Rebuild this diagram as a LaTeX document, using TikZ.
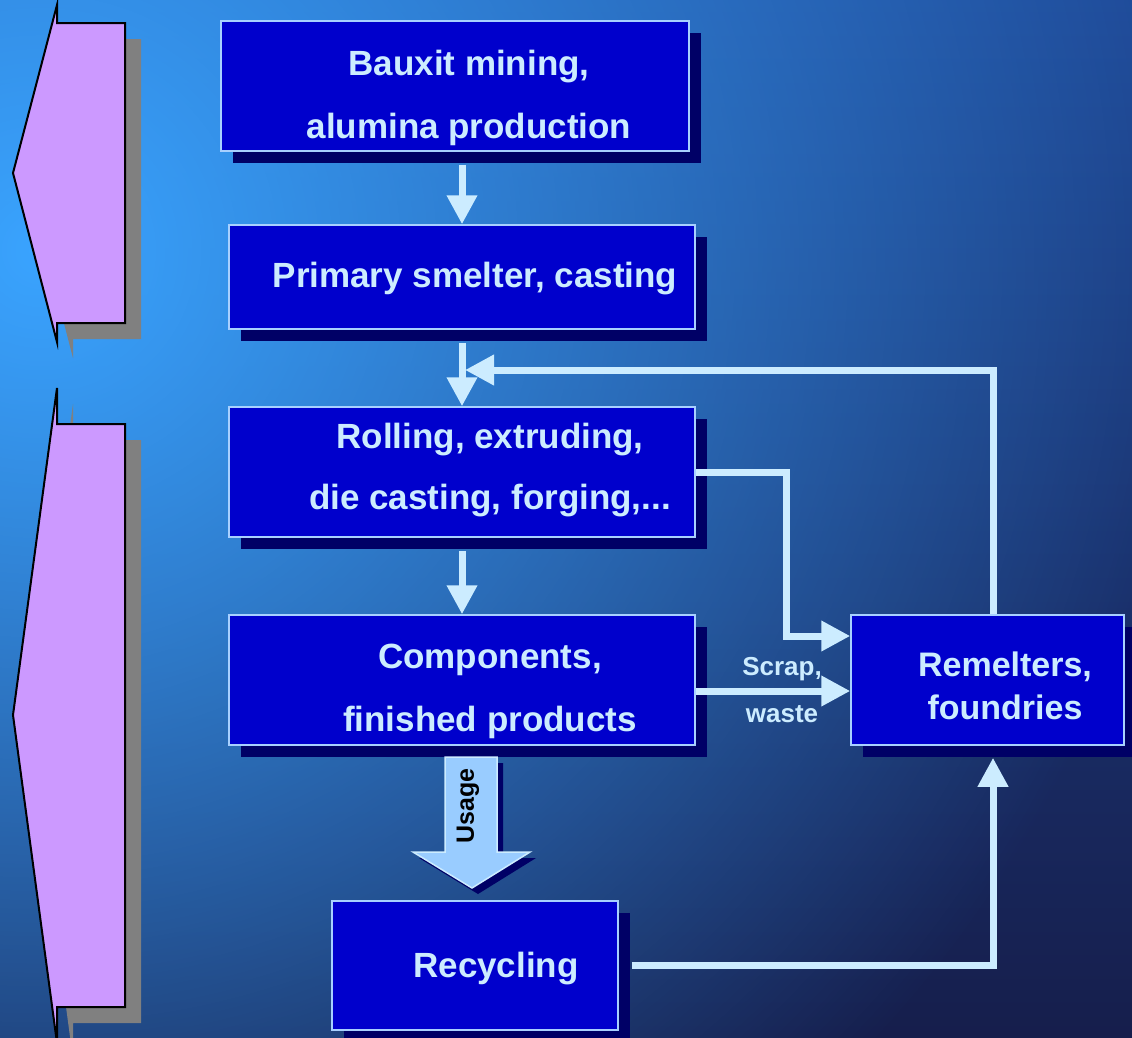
\documentclass[tikz,border=0pt]{standalone}
\usepackage{fontspec}
\setmainfont{Liberation Sans}
\usetikzlibrary{calc,shadows,arrows.meta,fadings}
\definecolor{boxfill}{HTML}{0000CC}
\definecolor{boxshadow}{HTML}{000066}
\definecolor{lite}{HTML}{CCECFF}
\definecolor{boxline}{HTML}{A8D0FF}
\definecolor{chev}{HTML}{CC99FF}
\definecolor{chevshadow}{HTML}{808080}
\definecolor{usagefill}{HTML}{99CCFF}
\definecolor{bgA}{HTML}{3AA4FF}
\definecolor{bgM}{HTML}{1F4A98}
\definecolor{bgB}{HTML}{161E4C}
\tikzfading[name=softglow, inner color=transparent!0, outer color=transparent!100]
\begin{document}
\begin{tikzpicture}[x=1pt,y=-1pt,
  box/.style={draw=boxline, line width=1.5pt, fill=boxfill,
    drop shadow={shadow xshift=12pt, shadow yshift=-12pt, fill=boxshadow, opacity=1},
    inner sep=0pt},
  boxtext/.style={text=lite, font=\bfseries\fontsize{35}{63}\selectfont, align=center, inner sep=0pt},
  conn/.style={draw=lite, line width=7pt},
  tipend/.style={-{Triangle[length=29pt,width=29pt]}},
  chevron/.style={fill=chev, draw=black, line width=2pt, line join=miter},
  chevshade/.style={fill=chevshadow},
]
\useasboundingbox (0,0) rectangle (1132,1037);
% background
\begin{scope}
  \clip (0,0) rectangle (1132,1037);
  \shade[top color=bgM, bottom color=bgB] (0,0) rectangle (1132,1037);
  \fill[bgA, path fading=softglow] (40,250) circle (1150);
\end{scope}

% left chevrons
\begin{scope}
  \clip (0,0) rectangle (1132,1037);
  \fill[chevshade, shift={(16,16)}] (57,5) -- (57,23) -- (125,23) -- (125,323) -- (57,323) -- (57,342) -- (13,173) -- cycle;
  \draw[chevron] (57,5) -- (57,23) -- (125,23) -- (125,323) -- (57,323) -- (57,342) -- (13,173) -- cycle;
  \fill[chevshade, shift={(16,16)}] (57,388) -- (57,424) -- (125,424) -- (125,1007) -- (57,1007) -- (57,1043) -- (13,715) -- cycle;
  \draw[chevron] (57,388) -- (57,424) -- (125,424) -- (125,1007) -- (57,1007) -- (57,1043) -- (13,715) -- cycle;
\end{scope}

% boxes
\node[box, minimum width=468pt, minimum height=130pt] (bauxit) at (455,86) {};
\node[boxtext] (bauxit-t) at (469,97.5) {Bauxit mining,\\alumina production};

\node[box, minimum width=466pt, minimum height=104pt] (primary) at (462,277) {};
\node[boxtext] (primary-t) at (475,279) {Primary smelter, casting};

\node[box, minimum width=466pt, minimum height=130pt] (rolling) at (462,472) {};
\node[boxtext, font=\bfseries\fontsize{35}{61}\selectfont] (rolling-t) at (490,470.5) {Rolling, extruding,\\die casting, forging,...};

\node[box, minimum width=466pt, minimum height=130pt] (components) at (462,680) {};
\node[boxtext] (components-t) at (490,691.5) {Components,\\finished products};

\node[box, minimum width=273pt, minimum height=130pt] (remelters) at (987.5,680) {};
\node[boxtext, font=\bfseries\fontsize{34}{43}\selectfont] (remelters-t) at (1005,686) {Remelters,\\foundries};

\node[box, minimum width=286pt, minimum height=129pt] (recycling) at (475,965.5) {};
\node[boxtext] (recycling-t) at (496,969) {Recycling};

% usage block arrow
\fill[boxshadow, shift={(6,6)}] (445,757) -- (497,757) -- (497,852) -- (530,852) -- (472,888) -- (413,852) -- (445,852) -- cycle;
\draw[fill=usagefill, draw=lite, line width=1.5pt, line join=miter] (445,757) -- (497,757) -- (497,852) -- (530,852) -- (472,888) -- (413,852) -- (445,852) -- cycle;
\node[rotate=90, font=\bfseries\fontsize{25}{30}\selectfont, text=black, inner sep=0pt] (usage) at (468,806) {Usage};

% connectors
\coordinate (fbtip) at (465,370);
\draw[conn, tipend] ($(primary.north |- bauxit.south)+(0,13)$) -- (primary.north);
\draw[conn, tipend] ($(primary.south)+(0,13)$) -- (rolling.north);
\draw[conn, tipend] ($(rolling.south)+(0,13)$) -- (components.north);
\draw[conn, tipend] ($(remelters.north)+(5.5,0)$) |- (fbtip);
\draw[conn, tipend] (rolling.east) -- ++(91,0) |- ($(remelters.west)+(0,-44)$);
\draw[conn, tipend] ($(components.east)+(0,11)$) -- ($(remelters.west)+(0,11)$);
\draw[conn, tipend] ($(recycling.east)+(13,0)$) -| ($(remelters.south)+(5.5,12)$);

\node[text=lite, font=\bfseries\fontsize{26}{47}\selectfont, align=center, inner sep=0pt] (scrap) at (782,690) {Scrap,\\waste};
\end{tikzpicture}
\end{document}
